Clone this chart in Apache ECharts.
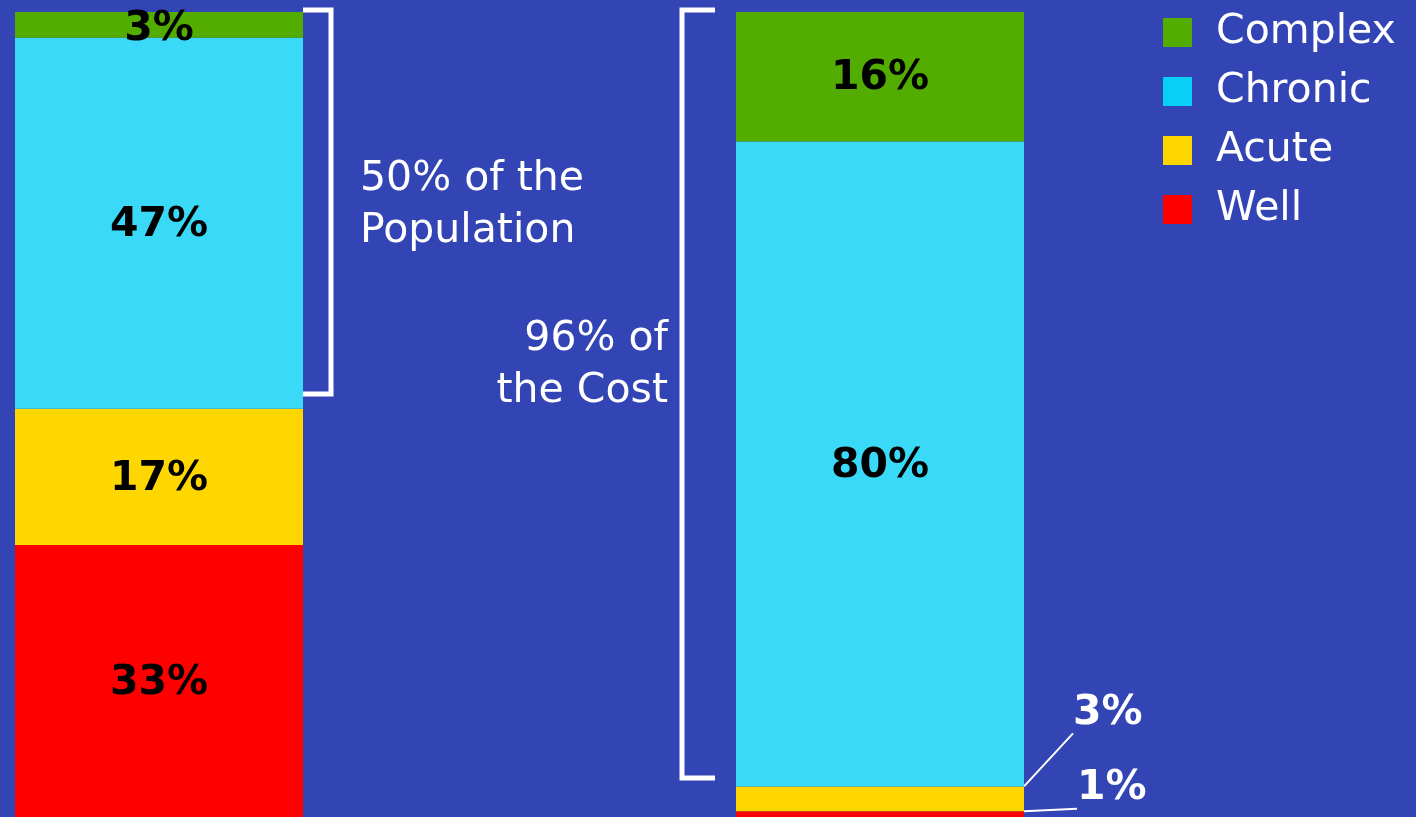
<!DOCTYPE html>
<html>
<head>
<meta charset="utf-8">
<script src="https://cdn.jsdelivr.net/npm/echarts@6/dist/echarts.min.js"></script>
<style>
html,body{margin:0;padding:0;background:#3344b4;}
#chart{width:1416px;height:817px;}
</style>
</head>
<body>
<div id="chart"></div>
<script>
// Data (bottom-to-top stacking order)
var categories = ['Well', 'Acute', 'Chronic', 'Complex'];
var colors = ['#ff0000', '#ffd700', '#3ad9f8', '#52ad00'];
var legendColors = ['#ff0000', '#ffd700', '#08cff5', '#52ad00'];
// share of population (measured from bar heights)
var populationValues = [33.8, 16.9, 46.1, 3.2];
var populationLabels = ['33%', '17%', '47%', '3%'];
// share of cost
var costValues = [0.7, 3.1, 80.1, 16.1];
var costLabels = ['1%', '3%', '80%', '16%'];
var populationNote = '50% of the\nPopulation';
var costNote = '96% of\nthe Cost';

var FONT = 'DejaVu Sans';
var chart = echarts.init(document.getElementById('chart'));

var series = [];
categories.forEach(function (name, i) {
  series.push({
    name: name, type: 'bar', stack: 'pop', xAxisIndex: 0, yAxisIndex: 0,
    barWidth: '100%',
    itemStyle: { color: colors[i] },
    label: {
      show: true, position: 'inside', color: '#000',
      fontFamily: FONT, fontWeight: 'bold', fontSize: 41,
      offset: [0, i === 3 ? 4 : 2],
      formatter: populationLabels[i]
    },
    data: [populationValues[i]]
  });
});
categories.forEach(function (name, i) {
  var small = costValues[i] < 5;
  var lbl = {
    show: true, position: small ? 'right' : 'inside',
    color: small ? '#fff' : '#000',
    fontFamily: FONT, fontWeight: 'bold', fontSize: 41,
    offset: [0, 2],
    formatter: costLabels[i]
  };
  if (small) {
    lbl.offset = i === 0 ? [48, -26] : [44, -86];
  }
  series.push({
    name: name, type: 'bar', stack: 'cost', xAxisIndex: 1, yAxisIndex: 1,
    barWidth: '100%',
    itemStyle: { color: colors[i] },
    label: lbl,
    labelLine: small ? { show: true, lineStyle: { color: '#fff', width: 2 } } : { show: false },
    data: [costValues[i]]
  });
});

var legendData = categories.slice().reverse().map(function (n) {
  var idx = categories.indexOf(n);
  return { name: n, itemStyle: { color: legendColors[idx] } };
});

var option = {
  backgroundColor: '#3344b4',
  animation: false,
  legend: {
    orient: 'vertical', left: 1158, top: 7,
    itemWidth: 29, itemHeight: 29, itemGap: 18,
    icon: 'rect',
    textStyle: { color: '#fff', fontFamily: FONT, fontSize: 41, padding: [0, 0, 0, 19] },
    data: legendData
  },
  grid: [
    { left: 15, top: 12, width: 288, height: 805 },
    { left: 736, top: 12, width: 288, height: 805 }
  ],
  xAxis: [
    { type: 'category', gridIndex: 0, data: ['Population'], show: false },
    { type: 'category', gridIndex: 1, data: ['Cost'], show: false }
  ],
  yAxis: [
    { type: 'value', gridIndex: 0, min: 0, max: 100, show: false },
    { type: 'value', gridIndex: 1, min: 0, max: 100, show: false }
  ],
  graphic: [
    { type: 'polyline', shape: { points: [[303, 10], [331, 10], [331, 394], [303, 394]] },
      style: { stroke: '#fff', lineWidth: 5, fill: null } },
    { type: 'polyline', shape: { points: [[715, 10], [682, 10], [682, 778], [715, 778]] },
      style: { stroke: '#fff', lineWidth: 5, fill: null } },
    { type: 'text', left: 360, top: 153,
      style: { text: populationNote, fill: '#fff', font: '41px "DejaVu Sans"', lineHeight: 52, textAlign: 'left' } },
    { type: 'text', right: 1416 - 668, top: 313,
      style: { text: costNote, fill: '#fff', font: '41px "DejaVu Sans"', lineHeight: 52, textAlign: 'right' } }
  ],
  series: series
};
chart.setOption(option);
</script>
</body>
</html>
